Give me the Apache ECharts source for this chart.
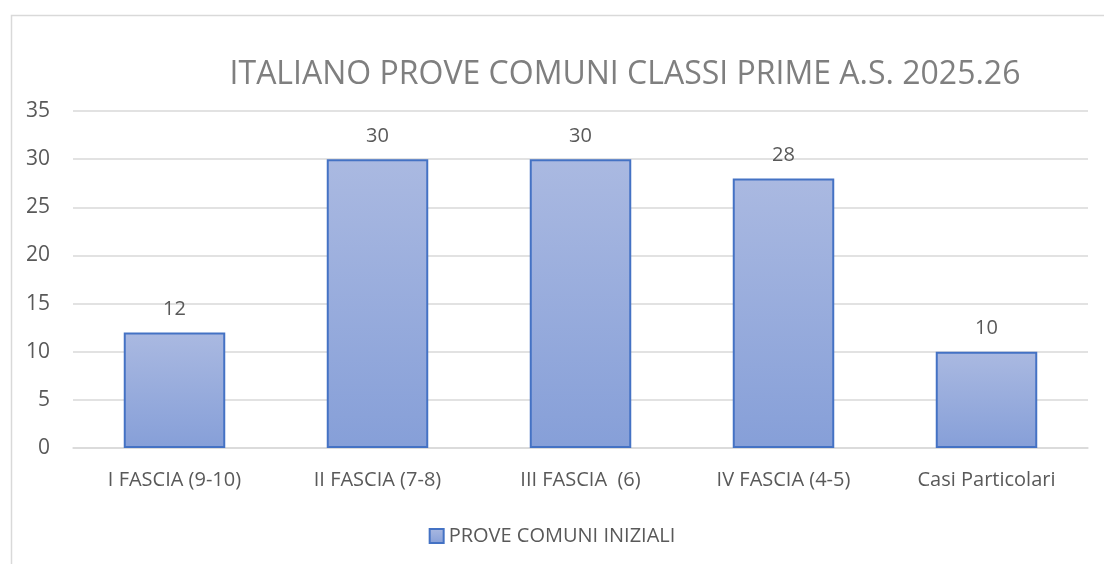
<!DOCTYPE html>
<html>
<head>
<meta charset="utf-8">
<script src="https://cdn.jsdelivr.net/npm/echarts@6/dist/echarts.min.js"></script>
<style>
  html, body { margin: 0; padding: 0; background: #fff; }
  #chart { width: 1104px; height: 564px; }
</style>
</head>
<body>
<div id="chart"></div>
<script>
const categories = ['I FASCIA (9-10)', 'II FASCIA (7-8)', 'III FASCIA  (6)', 'IV FASCIA (4-5)', 'Casi Particolari'];
const values = [12, 30, 30, 28, 10];
const seriesName = 'PROVE COMUNI INIZIALI';

const font = '"Open Sans", "Noto Sans", sans-serif';
const chart = echarts.init(document.getElementById('chart'), null, { renderer: 'canvas' });
chart.setOption({
  animation: false,
  graphic: [{
    type: 'rect', left: 9, top: 13,
    shape: { width: 1110, height: 570 },
    style: { fill: 'none', stroke: '#d9d9d9', lineWidth: 1.5 },
    silent: true
  }],
  title: {
    text: 'ITALIANO PROVE COMUNI CLASSI PRIME A.S. 2025.26',
    left: 620, top: 54, textAlign: 'center',
    textStyle: { fontFamily: font, fontSize: 32, fontWeight: 'normal', color: '#7f7f7f' }
  },
  legend: {
    data: [seriesName], top: 521, left: 'center',
    itemWidth: 14, itemHeight: 14, itemGap: 6,
    icon: 'rect',
    textStyle: { fontFamily: font, fontSize: 20, color: '#595959' }
  },
  grid: { left: 73, right: 16, top: 111, bottom: 116, containLabel: false },
  xAxis: {
    type: 'category', data: categories,
    axisLine: { lineStyle: { color: '#d9d9d9', width: 1.5 } },
    axisTick: { show: false },
    axisLabel: { fontFamily: font, fontSize: 20, color: '#595959', margin: 22 }
  },
  yAxis: {
    type: 'value', min: 0, max: 35, interval: 5,
    axisLine: { show: false }, axisTick: { show: false },
    splitLine: { lineStyle: { color: '#d9d9d9', width: 1.5 } },
    axisLabel: { fontFamily: font, fontSize: 21, color: '#595959', margin: 23 }
  },
  series: [{
    name: seriesName, type: 'bar', data: values, barWidth: '50%',
    itemStyle: {
      color: new echarts.graphic.LinearGradient(0, 0, 0, 1, [
        { offset: 0, color: '#aab9e1' },
        { offset: 1, color: '#869fd8' }
      ]),
      borderColor: '#4472c4', borderWidth: 2
    },
    label: {
      show: true, position: 'top', distance: 13,
      fontFamily: font, fontSize: 20, color: '#595959'
    }
  }]
});
</script>
</body>
</html>
